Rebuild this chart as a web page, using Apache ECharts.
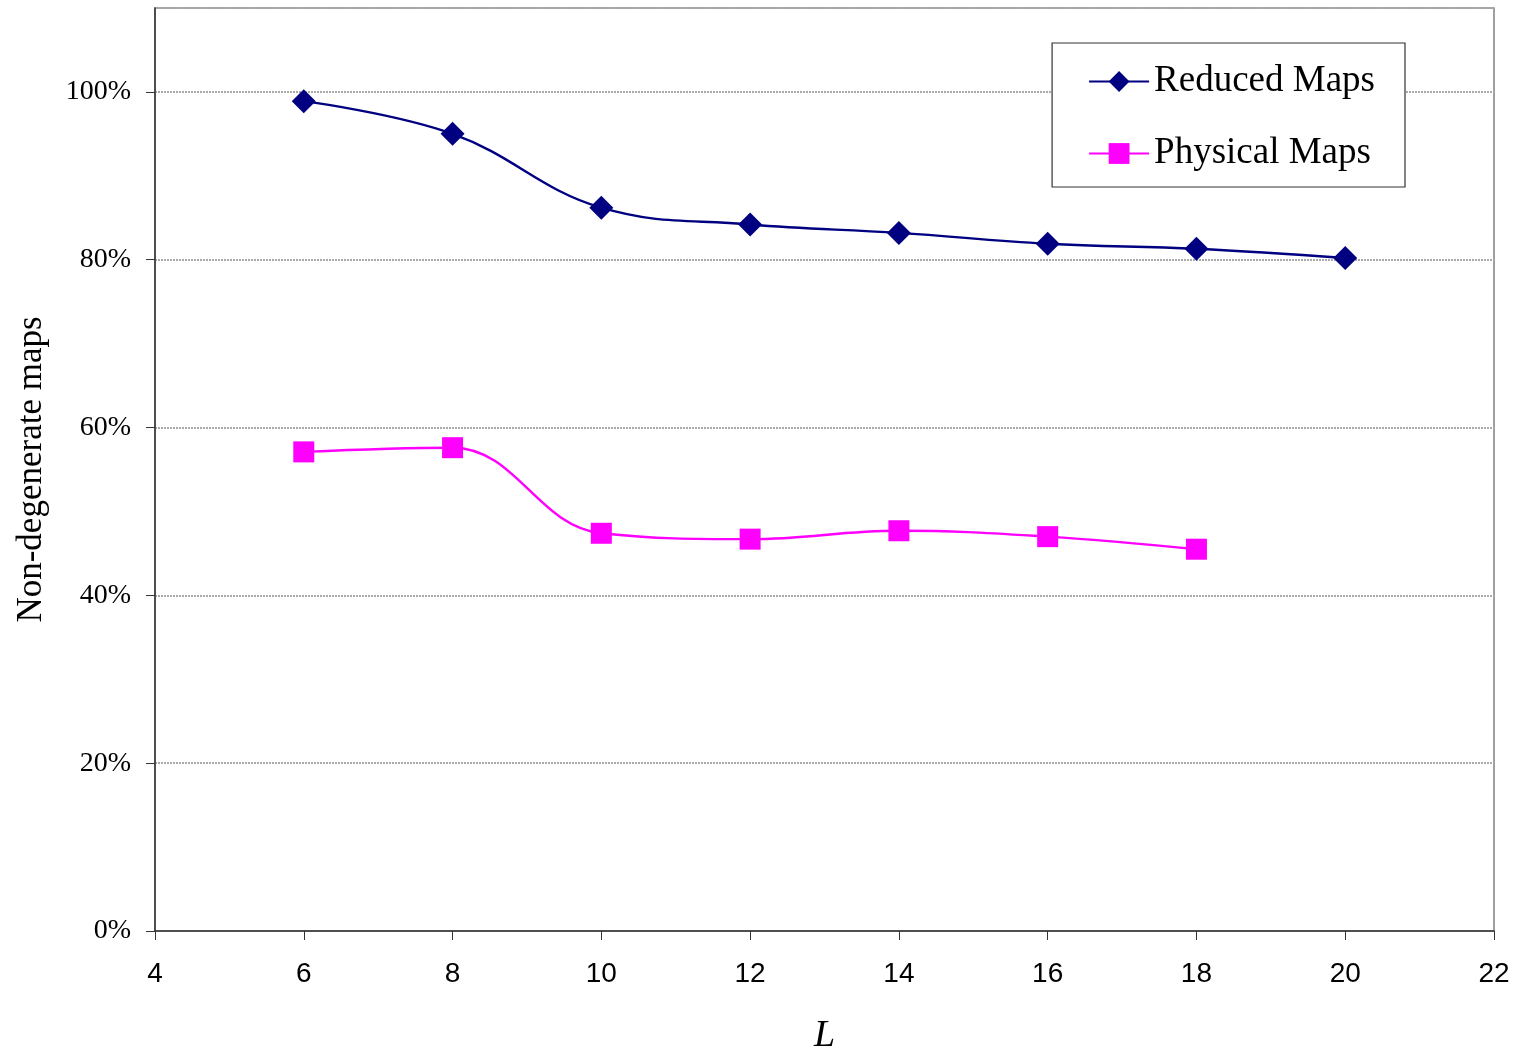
<!DOCTYPE html>
<html><head><meta charset="utf-8">
<script src="https://cdn.jsdelivr.net/npm/echarts@6/dist/echarts.min.js"></script>
<style>html,body{margin:0;padding:0;background:#fff}#c{width:1517px;height:1058px}</style>
</head><body><div id="c"></div>
<script>
const xValues = [6, 8, 10, 12, 14, 16, 18, 20];
const reducedMaps = [98.9, 95.0, 86.2, 84.2, 83.2, 81.9, 81.3, 80.2];
const physicalMaps = [57.1, 57.6, 47.4, 46.7, 47.7, 47.0, 45.5];
const yTickLabels = ['0%', '20%', '40%', '60%', '80%', '100%'];

const chart = echarts.init(document.getElementById('c'));
chart.setOption({
  animation: false,
  grid: { left: 155, right: 23, top: 8, bottom: 127, outerBoundsMode: 'none', containLabel: false,
          show: true, borderColor: '#808080', borderWidth: 1.5 },
  legend: {
    orient: 'vertical', right: 112, top: 43,
    padding: [20, 30, 15, 36],
    borderColor: '#333', borderWidth: 1.2, backgroundColor: '#fff',
    itemWidth: 60, itemHeight: 26, itemGap: 35,
    textStyle: { fontFamily: 'Liberation Serif', fontSize: 37, color: '#000' },
    data: ['Reduced Maps', 'Physical Maps']
  },
  xAxis: {
    type: 'value', min: 4, max: 22, interval: 2,
    name: 'L', nameLocation: 'middle', nameGap: 86,
    nameTextStyle: { fontFamily: 'Liberation Serif', fontStyle: 'italic', fontSize: 38, color: '#000' },
    axisLine: { show: true, lineStyle: { color: '#333', width: 1.5 } },
    axisTick: { show: true, length: 9, lineStyle: { color: '#333' } },
    axisLabel: { fontFamily: 'Liberation Sans', fontSize: 28, color: '#000', margin: 29 },
    splitLine: { show: false }
  },
  yAxis: {
    type: 'value', min: 0, max: 110, interval: 20,
    name: 'Non-degenerate maps', nameLocation: 'middle', nameGap: 106, nameRotate: 90,
    nameTextStyle: { fontFamily: 'Liberation Serif', fontSize: 35, color: '#000' },
    axisLine: { show: true, lineStyle: { color: '#333', width: 1.5 } },
    axisTick: { show: true, length: 9, lineStyle: { color: '#333' } },
    axisLabel: {
      fontFamily: 'Liberation Serif', fontSize: 28, color: '#000', margin: 24,
      showMaxLabel: false,
      formatter: v => (v % 20 === 0 && v <= 100) ? yTickLabels[v / 20] : ''
    },
    splitLine: { show: true, lineStyle: { color: '#aaa', type: [2, 1], width: 2 } }
  },
  series: [
    {
      name: 'Reduced Maps', type: 'line', smooth: 0.4,
      data: reducedMaps.map((v, i) => [xValues[i], v]),
      symbol: 'diamond', symbolSize: 24,
      lineStyle: { color: '#000080', width: 2.4 },
      itemStyle: { color: '#000080' }
    },
    {
      name: 'Physical Maps', type: 'line', smooth: 0.4,
      data: physicalMaps.map((v, i) => [xValues[i], v]),
      symbol: 'rect', symbolSize: 21,
      lineStyle: { color: '#ff00ff', width: 2.4 },
      itemStyle: { color: '#ff00ff' }
    }
  ]
});
</script></body></html>
